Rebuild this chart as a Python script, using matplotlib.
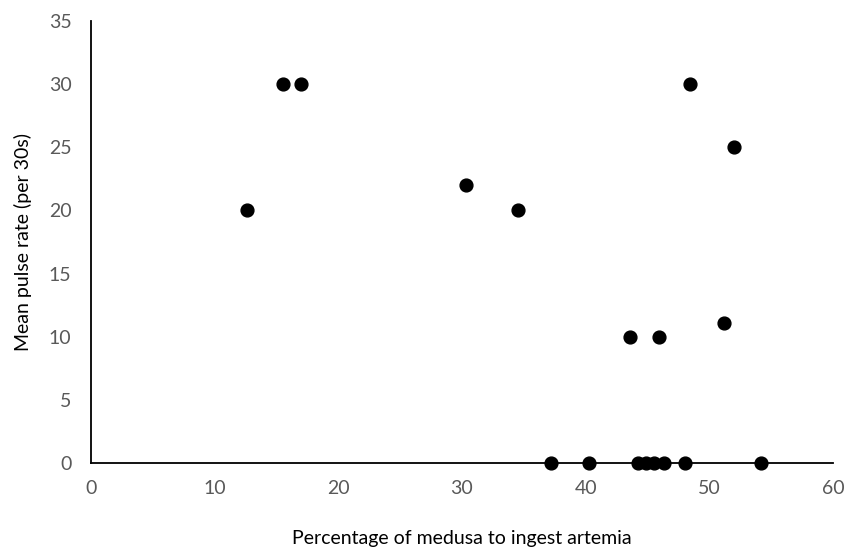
import matplotlib
matplotlib.use("Agg")
import matplotlib.pyplot as plt

# Percentage of medusa to ingest artemia vs mean pulse rate
pct_ingest = [12.6, 15.5, 17.0, 30.3, 34.5, 37.2, 40.3, 43.6, 44.2, 44.9,
              45.5, 45.9, 46.3, 48.0, 48.4, 51.2, 52.0, 54.2]
pulse_rate = [20, 30, 30, 22, 20, 0, 0, 10, 0, 0,
              0, 10, 0, 0, 30, 11.1, 25, 0]

x_ticks = [0, 10, 20, 30, 40, 50, 60]
y_ticks = [0, 5, 10, 15, 20, 25, 30, 35]

plt.rcParams['font.family'] = ['Lato', 'DejaVu Sans']

fig = plt.figure(figsize=(8.5, 5.54), dpi=100)
ax = fig.add_axes([0.107, 0.1637, 0.873, 0.799])

ax.scatter(pct_ingest, pulse_rate, s=85, color='black', zorder=3, clip_on=False)

ax.set_xlim(0, 60)
ax.set_ylim(0, 35)
ax.set_xticks(x_ticks)
ax.set_yticks(y_ticks)
ax.tick_params(length=0, labelsize=14, labelcolor='#595959', pad=12)
ax.tick_params(axis='y', pad=14)

for side in ['top', 'right']:
    ax.spines[side].set_visible(False)
for side in ['left', 'bottom']:
    ax.spines[side].set_linewidth(1.3)
    ax.spines[side].set_color('black')

ax.set_xlabel("Percentage of medusa to ingest artemia", fontsize=14, labelpad=24)
ax.set_ylabel("Mean pulse rate (per 30s)", fontsize=14, labelpad=12)

fig.savefig("out.png", dpi=100)
